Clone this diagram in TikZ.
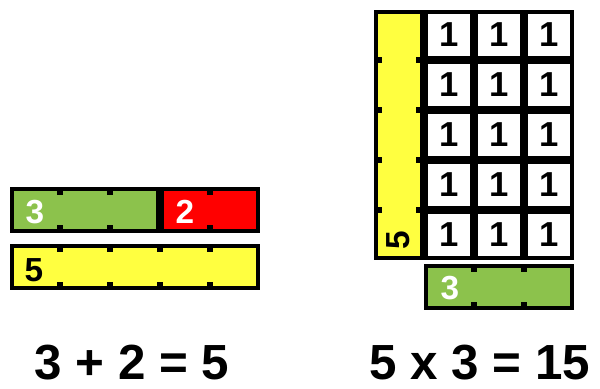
\documentclass[tikz,border=0pt]{standalone}
\usepackage{fontspec}
\setmainfont{Liberation Sans}
\usetikzlibrary{positioning}
\definecolor{rodgreen}{RGB}{140,194,76}
\definecolor{rodred}{RGB}{255,0,0}
\definecolor{rodyellow}{RGB}{255,255,64}

\begin{document}
\begin{tikzpicture}[x=0.75pt, y=-0.75pt]
    \tikzstyle{rod} = [draw, line width=3pt, inner sep=0pt, minimum height=31.5pt]
    \tikzstyle{cell} = [draw, line width=3pt, fill=white, inner sep=0pt, minimum size=34.5pt, font=\bfseries\fontsize{26}{26}\selectfont]
    \tikzstyle{lbl} = [inner sep=0pt, font=\bfseries\fontsize{25}{25}\selectfont]
    \tikzstyle{sum} = [inner sep=0pt, font=\bfseries\fontsize{37}{37}\selectfont]
    \useasboundingbox (0,0) rectangle (600,389);

    % Addition: 3 + 2 = 5
    \node [rod, fill=rodgreen, minimum width=109.5pt] (three) at (85,210) {};
    \node [rod, fill=rodred, minimum width=72pt, right=0pt of three] (two) {};
    \node [rod, fill=rodyellow, minimum width=184.5pt] (five) at (135,267) {};
    \foreach \x in {60,110,210} {
        \fill (\x-3,187) rectangle (\x+3,195);
        \fill (\x-3,225) rectangle (\x+3,233);
    }
    \foreach \x in {60,110,160,210} {
        \fill (\x-3,244) rectangle (\x+3,252);
        \fill (\x-3,282) rectangle (\x+3,290);
    }
    \node [lbl, white] (threelbl) at (35,212) {3};
    \node [lbl, white] (twolbl) at (185,212) {2};
    \node [lbl] (fivelbl) at (34,270) {5};

    % Multiplication: 5 x 3 = 15
    \node [rod, fill=rodyellow, minimum width=34.5pt, minimum height=184.5pt] (side) at (399,135) {};
    \foreach \y in {60,110,160,210} {
        \fill (374,\y-3) rectangle (382,\y+3);
        \fill (416,\y-3) rectangle (424,\y+3);
    }
    \node [lbl, rotate=90] (sidelbl) at (398,240) {5};
    \foreach \x in {449,499,549}
        \foreach \y in {35,85,135,185,235}
            \node [cell] (c\x\y) at (\x,\y) {1};
    \node [rod, fill=rodgreen, minimum width=109.5pt] (base) at (499,287) {};
    \foreach \x in {474,524} {
        \fill (\x-3,264) rectangle (\x+3,272);
        \fill (\x-3,302) rectangle (\x+3,310);
    }
    \node [lbl, white] (baselbl) at (450,288) {3};

    % Equations
    \node [sum] (addeq) at (132,363) {3 + 2 = 5};
    \node [sum] (muleq) at (480,363) {5 x 3 = 15};
\end{tikzpicture}
\end{document}
